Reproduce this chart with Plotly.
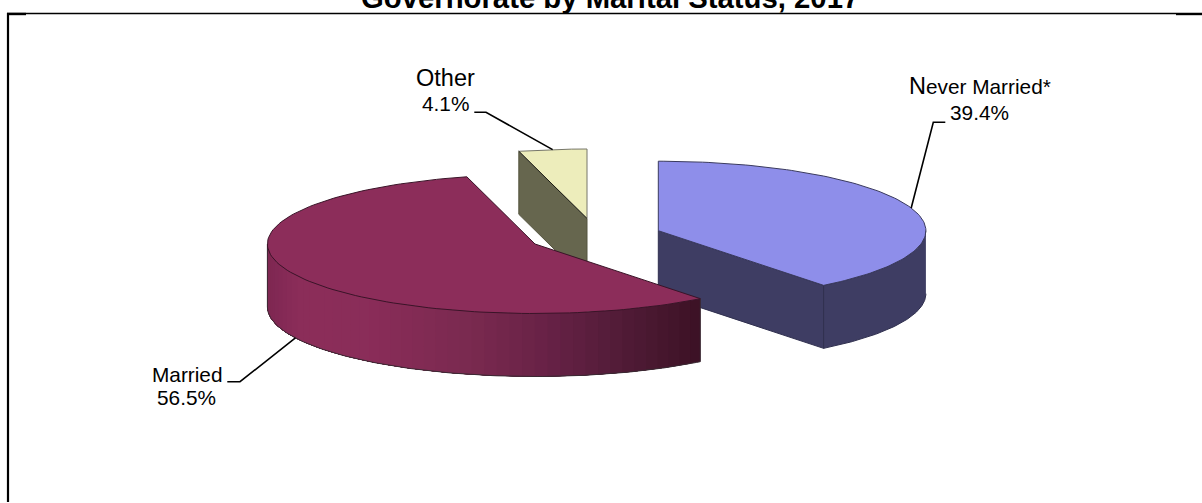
import numpy as np
import plotly.graph_objects as go

# ---- data ----
categories = ["Never Married*", "Married", "Other"]
values = [39.4, 56.5, 4.1]
title_text = "Governorate by Marital Status, 2017"

# ---- styles / layout ----
top_colors = ["#8E8EEA", "#8C2D5A", "#EDEDBB"]
wall_colors = ["#3E3D63", "#8C2D5A", "#66664E"]
edge_colors = ["#30304F", "#3A1428", "#55553F"]
centers = [(658.3, 230.7), (535.0, 244.0), (587.0, 218.5)]
RX, RY, DEPTH = 267.6, 69.5, 63.0
W, H = 1202, 503
FONT = "Liberation Sans, Arial, sans-serif"

gradient_x = [268, 300, 370, 470, 550, 620, 700]
gradient_r = [126, 140, 138, 122, 103, 82, 60]
gradient_g = [40, 45, 45, 42, 34, 28, 18]
gradient_b = [82, 90, 89, 80, 70, 56, 37]

total = sum(values)
edges = np.concatenate([[0], np.cumsum(values)]) / total * 360.0


def rim(center, deg, drop=0.0):
    t = np.radians(deg)
    return center[0] + RX * np.sin(t), center[1] - RY * np.cos(t) + drop


def arc(center, a, b, drop=0.0, n=120):
    return rim(center, np.linspace(a, b, n), drop)


fig = go.Figure()


def poly(xs, ys, fill, line=None, width=1.0):
    fig.add_trace(go.Scatter(
        x=list(xs), y=list(ys), mode="lines", fill="toself", fillcolor=fill,
        line=dict(color=line or fill, width=width), hoverinfo="skip", showlegend=False))


def stroke(xs, ys, color, width=1.0):
    fig.add_trace(go.Scatter(
        x=list(xs), y=list(ys), mode="lines", line=dict(color=color, width=width),
        hoverinfo="skip", showlegend=False))


# Other (back): radial wall then top face
c, a, b = centers[2], edges[2], edges[3]
x0, y0 = rim(c, a)
poly([x0, c[0], c[0], x0, x0], [y0, c[1], c[1] + DEPTH, y0 + DEPTH, y0],
     wall_colors[2], edge_colors[2], 1.0)
ax, ay = arc(c, a, b)
poly(list(ax) + [c[0], ax[0]], list(ay) + [c[1], ay[0]], top_colors[2], "#77776A", 1.0)
stroke([x0, c[0]], [y0, c[1]], "#1E1E14", 1.0)

# Never Married: radial wall, rim wall, top face
c, a, b = centers[0], edges[0], edges[1]
x1, y1 = rim(c, b)
poly([c[0], x1, x1, c[0], c[0]], [c[1], y1, y1 + DEPTH, c[1] + DEPTH, c[1]],
     wall_colors[0], edge_colors[0], 1.0)
ax, ay = arc(c, 90, b)
poly(list(ax) + list(ax[::-1]), list(ay) + list((ay + DEPTH)[::-1]),
     wall_colors[0], edge_colors[0], 1.0)
ax, ay = arc(c, a, b)
poly([c[0]] + list(ax) + [c[0]], [c[1]] + list(ay) + [c[1]], top_colors[0], "#3A3A5E", 1.0)

# Married: rim wall shaded in overlapping bands, then top face
c, a, b = centers[1], edges[1], edges[2]
band_starts = np.linspace(a, 270, 48)[:-1]
band_width = band_starts[1] - band_starts[0]
for s in band_starts:
    sx, sy = arc(c, s, 270, n=100)
    mid = rim(c, s + band_width / 2)[0]
    col = "rgb(%d,%d,%d)" % (np.interp(mid, gradient_x, gradient_r),
                             np.interp(mid, gradient_x, gradient_g),
                             np.interp(mid, gradient_x, gradient_b))
    poly(list(sx) + list(sx[::-1]), list(sy) + list((sy + DEPTH)[::-1]), col, col, 0)
bx, by = arc(c, a, 270, DEPTH)
stroke([bx[0]] + list(bx) + [bx[-1]], [by[0] - DEPTH] + list(by) + [by[-1] - DEPTH], "#3A2A33", 1.0)
ax, ay = arc(c, a, b)
poly([c[0]] + list(ax) + [c[0]], [c[1]] + list(ay) + [c[1]], top_colors[1], "#3A1428", 1.0)

# Leader lines: each runs from a label elbow to the rim at its slice's middle angle
elbows = [[(945.3, 122.3), (933.3, 122.3)], [(227.3, 381.7), (240.0, 381.7)], [(474.3, 112.3), (486.0, 112.3)]]
drops = [0.0, DEPTH, 0.0]
for i, el in enumerate(elbows):
    ex, ey = rim(centers[i], (edges[i] + edges[i + 1]) / 2, drops[i])
    stroke([p[0] for p in el] + [ex], [p[1] for p in el] + [ey], "#000000", 1.6)

# Labels: (centre x, baseline y, size) for the name and the percentage rows
name_pos = [(980.0, 95.5, 20.8), (187.0, 382.5, 20.8), (445.0, 86.5, 23.5)]
pct_pos = [(979.7, 120.0, 20.8), (186.7, 405.7, 20.8), (445.0, 111.5, 20.8)]


def label(text, pos):
    fig.add_annotation(x=pos[0], y=pos[1] + 0.22 * pos[2], xref="x", yref="y", text=text,
                       showarrow=False, xanchor="center", yanchor="bottom",
                       borderpad=0, font=dict(family=FONT, size=pos[2], color="#000000"))


for i, cat in enumerate(categories):
    shown = cat
    if i == 0:
        shown = '<span style="font-size:23.5px">' + cat[0] + "</span>" + cat[1:]
    label(shown, name_pos[i])
    label(f"{values[i]:.1f}%", pct_pos[i])

fig.add_annotation(x=609.5, y=15.5, xref="x", yref="y", text="<b>" + title_text + "</b>",
                   showarrow=False, xanchor="center", yanchor="bottom", borderpad=0,
                   font=dict(family=FONT, size=29.3, color="#000000"))

# Frame
frame = [(8, 13, 8, 502, 2.2), (7, 13.5, W, 13.5, 1.4), (7, 14, 26, 14, 2.4), (1176, 14.2, W, 14.2, 2.0)]
for x_a, y_a, x_b, y_b, w in frame:
    fig.add_shape(type="line", xref="x", yref="y", x0=x_a, y0=y_a, x1=x_b, y1=y_b,
                  line=dict(color="#000000", width=w))

fig.update_layout(
    width=W, height=H, margin=dict(l=0, r=0, t=0, b=0), autosize=False,
    paper_bgcolor="#FFFFFF", plot_bgcolor="#FFFFFF", showlegend=False,
    xaxis=dict(range=[0, W], visible=False, fixedrange=True),
    yaxis=dict(range=[H, 0], visible=False, fixedrange=True),
)

fig.write_html("out.html", config={"displayModeBar": False},
               post_script="document.body.style.margin='0';document.body.style.overflow='hidden';")
